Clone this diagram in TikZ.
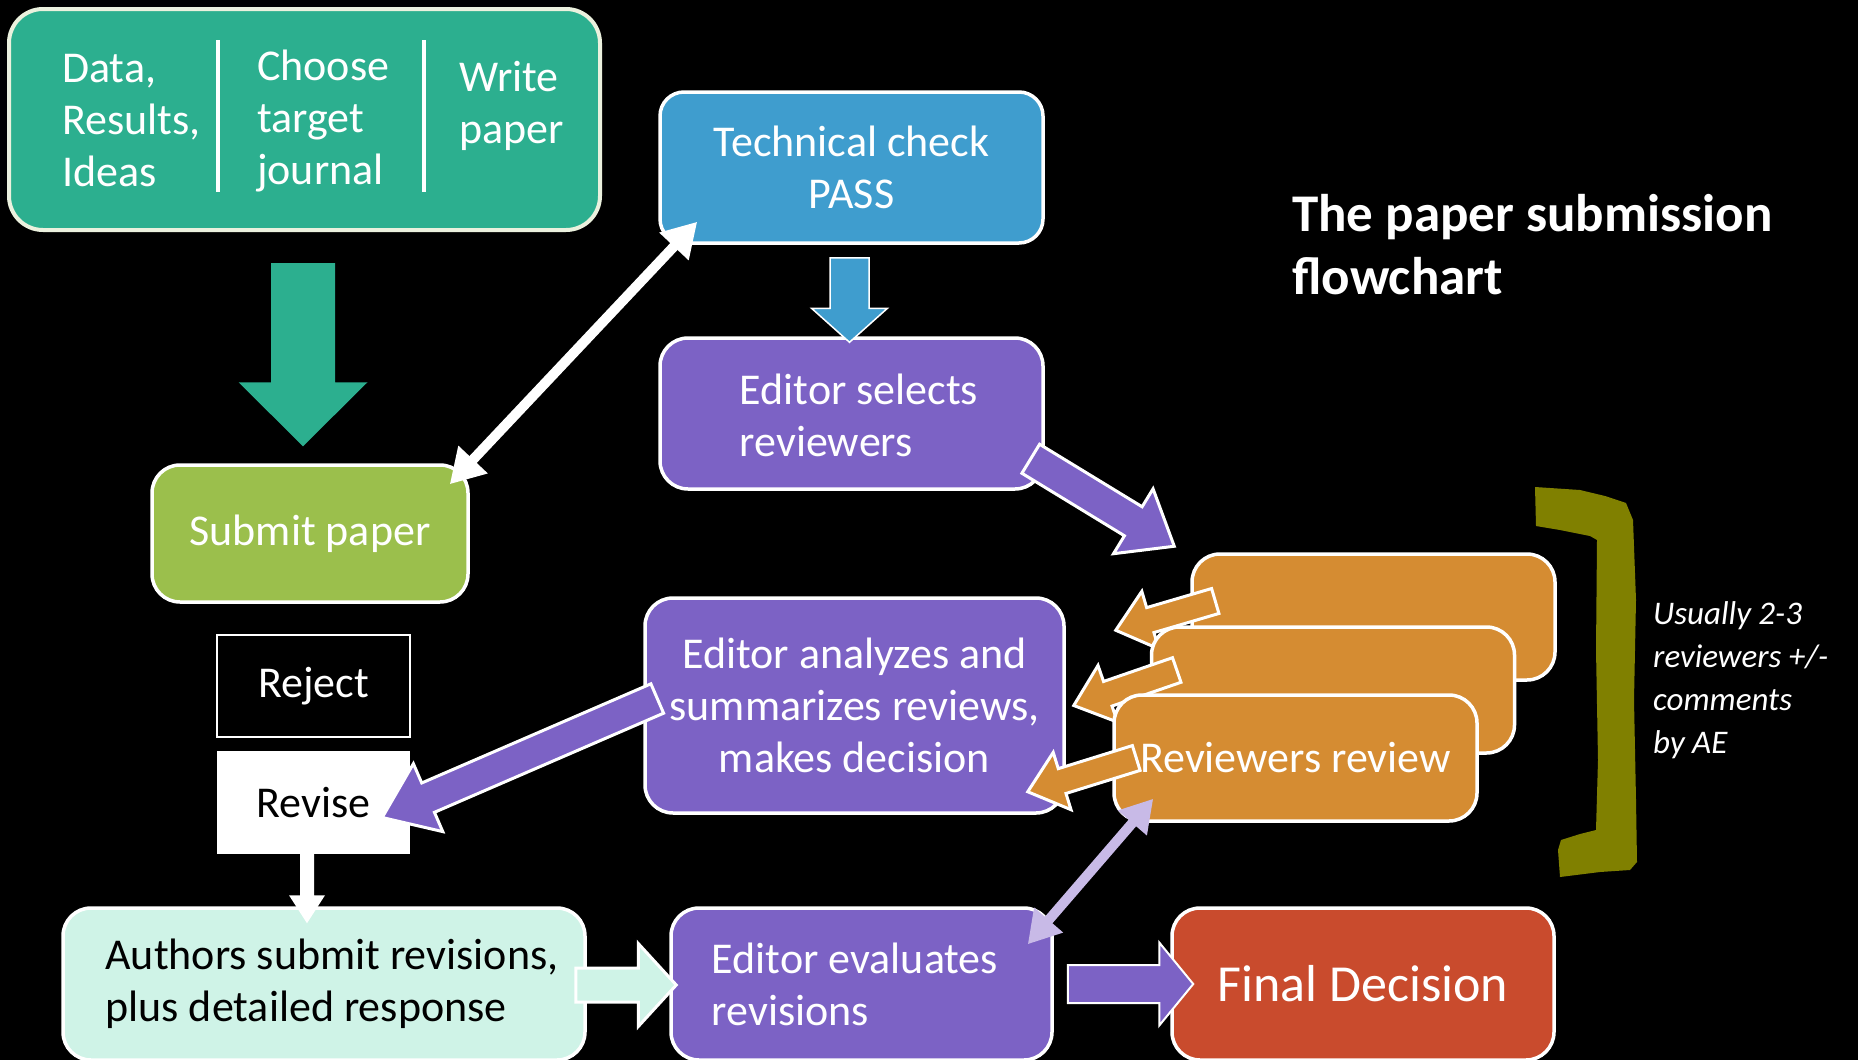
\documentclass[tikz,border=0pt]{standalone}
\usepackage{fontspec}
\setmainfont{Carlito}
\usetikzlibrary{calc,arrows.meta}
\definecolor{cteal}{HTML}{2CAF8F}
\definecolor{ccream}{HTML}{EBF1DE}
\definecolor{cblue}{HTML}{3F9DCE}
\definecolor{cpurple}{HTML}{7C62C5}
\definecolor{cgreen}{HTML}{9BBF4C}
\definecolor{corange}{HTML}{D58C32}
\definecolor{cred}{HTML}{C94B2D}
\definecolor{cmint}{HTML}{CFF3E7}
\definecolor{clav}{HTML}{C8BAE7}
\definecolor{colive}{HTML}{808000}
% #1 style, #2 from, #3 to, #4 shaft half width, #5 head half width, #6 head length
\newcommand\blockarr[6]{%
  \coordinate (bah) at ($(#3)!#6!(#2)$);
  \path[#1] ($(#2)!#4!90:(#3)$) -- ($(bah)!#4!90:(#3)$) -- ($(bah)!#5!90:(#3)$) -- (#3)
    -- ($(bah)!#5!-90:(#3)$) -- ($(bah)!#4!-90:(#3)$) -- ($(#2)!#4!-90:(#3)$) -- cycle;}
\begin{document}
\begin{tikzpicture}[x=1pt,y=-1pt,
  box/.style={draw=white,line width=3.5pt,rounded corners=28pt,inner sep=0pt,
    text=white,font=\fontsize{44}{52}\selectfont,align=center},
  txt/.style={text=white,font=\fontsize{44}{52}\selectfont,inner sep=0pt},
  barr/.style={draw=white,line width=3pt,line join=miter},
  revbox/.style={box,fill=corange,minimum width=363pt,minimum height=126pt},
  oarr/.style={barr,fill=corange}]
\fill[black] (0,0) rectangle (1858,1060);
\useasboundingbox (0,0) rectangle (1858,1060);

% top box
\node[box,draw=ccream,line width=4pt,fill=cteal,rounded corners=34pt,
  minimum width=591pt,minimum height=221pt] (top) at (304.5,119.5) {};
\node[txt,anchor=west,align=left] (c1) at (62,121) {Data,\\Results,\\Ideas};
\node[txt,anchor=west,align=left] (c2) at (257,121) {Choose\\target\\journal};
\node[txt,anchor=west,align=left] (c3) at (459,106) {Write\\paper};
\draw[white,line width=4pt] (218,40) -- (218,192);
\draw[white,line width=4pt] (424,40) -- (424,192);

% main boxes
\node[box,fill=cgreen,minimum width=316pt,minimum height=137pt] (sub) at (310,533.5) {Submit paper};
\node[box,fill=cblue,rounded corners=24pt,minimum width=383pt,minimum height=151pt] (tc) at (851.5,167.5) {Technical check\\PASS};
\node[box,fill=cpurple,minimum width=383pt,minimum height=151pt] (es) at (851.5,413.5) {};
\node[txt,align=left] (est) at (859,415) {Editor selects\\reviewers};
\node[box,fill=cpurple,minimum width=419pt,minimum height=215pt] (ea) at (854.5,705.5) {Editor analyzes and\\summarizes reviews,\\makes decision};
\node[draw=white,line width=2pt,fill=black,text=white,font=\fontsize{44}{52}\selectfont,
  minimum width=193pt,minimum height=102pt,inner sep=0pt] (rej) at (313.5,686) {Reject};
\node[fill=white,text=black,font=\fontsize{44}{52}\selectfont,
  minimum width=193pt,minimum height=103pt,inner sep=0pt] (rev) at (313.5,802.5) {Revise};
\node[box,fill=cmint,minimum width=522pt,minimum height=152pt] (au) at (324,984) {};
\node[txt,text=black,align=left] (aut) at (332,984) {Authors submit revisions,\\plus detailed response};
\node[box,fill=cpurple,minimum width=381pt,minimum height=152pt] (ee) at (861.5,984) {};
\node[txt,align=left] (eet) at (855,984) {Editor evaluates\\revisions};
\node[box,fill=cred,font=\fontsize{52}{60}\selectfont,minimum width=382pt,minimum height=152pt] (fd) at (1363,984) {Final Decision};

% reviewer stack
\node[revbox] (rb1) at (1373.5,617) {};
\coordinate (o1s) at ($(rb1.west)+(25,-16)$);
\coordinate (o1e) at ($(ea.north east)+(50,34)$);
\blockarr{oarr}{o1s}{o1e}{13pt}{30pt}{36pt}
\node[revbox] (rb2) at (1333,690) {};
\coordinate (o2s) at ($(rb2.west)+(27,-20)$);
\coordinate (o2e) at ($(ea.east)+(8,0)$);
\blockarr{oarr}{o2s}{o2e}{13pt}{30pt}{36pt}
\node[revbox] (rb3) at (1295.5,758) {Reviewers review};
\coordinate (o3s) at ($(rb3.west)+(24,0)$);
\coordinate (o3e) at ($(ea.south east)+(-38,-23)$);
\blockarr{oarr}{o3s}{o3e}{13pt}{30pt}{36pt}

% arrows
\coordinate (g1) at ($(top.south)+(-1.5,31)$);
\coordinate (g2) at ($(sub.north)+(-7,-17)$);
\blockarr{fill=cteal}{g1}{g2}{32pt}{64.5pt}{64pt}
\coordinate (b1) at ($(tc.south)+(-2,13)$);
\coordinate (b2) at ($(es.north)+(-2,6)$);
\blockarr{fill=cblue,draw=white,line width=1.5pt}{b1}{b2}{19.5pt}{38pt}{34pt}
\coordinate (w1) at ($(sub.north east)+(-20,21)$);
\coordinate (w2) at ($(tc.south west)+(39,-23)$);
\draw[white,line width=10pt,{Triangle[length=34pt,width=38pt]}-{Triangle[length=34pt,width=38pt]}] (w1) -- (w2);
\coordinate (p1) at ($(es.south east)+(-14,-32)$);
\coordinate (p2) at ($(rb1.north west)+(-16,-6)$);
\blockarr{barr,fill=cpurple}{p1}{p2}{17pt}{38pt}{48pt}
\coordinate (q1) at ($(ea.west)+(14,-7)$);
\coordinate (q2) at ($(rev.east)+(-28,15)$);
\blockarr{barr,fill=cpurple}{q1}{q2}{16pt}{37pt}{50pt}
\coordinate (r1) at ($(rev.south)+(-6.5,0)$);
\coordinate (r2) at ($(au.north)+(-17,17)$);
\blockarr{fill=white}{r1}{r2}{7pt}{18pt}{28pt}
\coordinate (m1) at ($(au.east)+(-11,1)$);
\coordinate (m2) at ($(ee.west)+(7,1)$);
\blockarr{barr,fill=cmint}{m1}{m2}{17pt}{41.5pt}{38pt}
\coordinate (l1) at ($(ee.north east)+(-26,38)$);
\coordinate (l2) at ($(rb3.south west)+(41,-24)$);
\draw[clav,line width=10pt,{Triangle[length=32pt,width=36pt]}-{Triangle[length=32pt,width=36pt]}] (l1) -- (l2);
\coordinate (f1) at ($(ee.east)+(14,0)$);
\coordinate (f2) at ($(fd.west)+(23,0)$);
\blockarr{barr,line width=2pt,fill=cpurple}{f1}{f2}{19pt}{41.5pt}{34pt}

% bracket
\fill[colive] (1535,487) -- (1580,490) -- (1605,496) -- (1626,503) -- (1633,520)
  -- (1636,600) -- (1634,700) -- (1636,800) -- (1637,862) -- (1630,870) -- (1600,872)
  -- (1560,877) -- (1558,850) -- (1561,840) -- (1580,834) -- (1596,830) -- (1598,760)
  -- (1596,650) -- (1597,540) -- (1590,536) -- (1560,530) -- (1536,526) -- cycle;

% texts
\node[anchor=west,align=left,text=white,inner sep=0pt,font=\bfseries\fontsize{53}{63}\selectfont] (title) at (1292,244.5) {The paper submission\\flowchart};
\node[anchor=west,align=left,text=white,inner sep=0pt,font=\itshape\fontsize{33}{43}\selectfont] (note) at (1653,680) {Usually 2-3\\reviewers +/-\\comments\\by AE};
\end{tikzpicture}
\end{document}
